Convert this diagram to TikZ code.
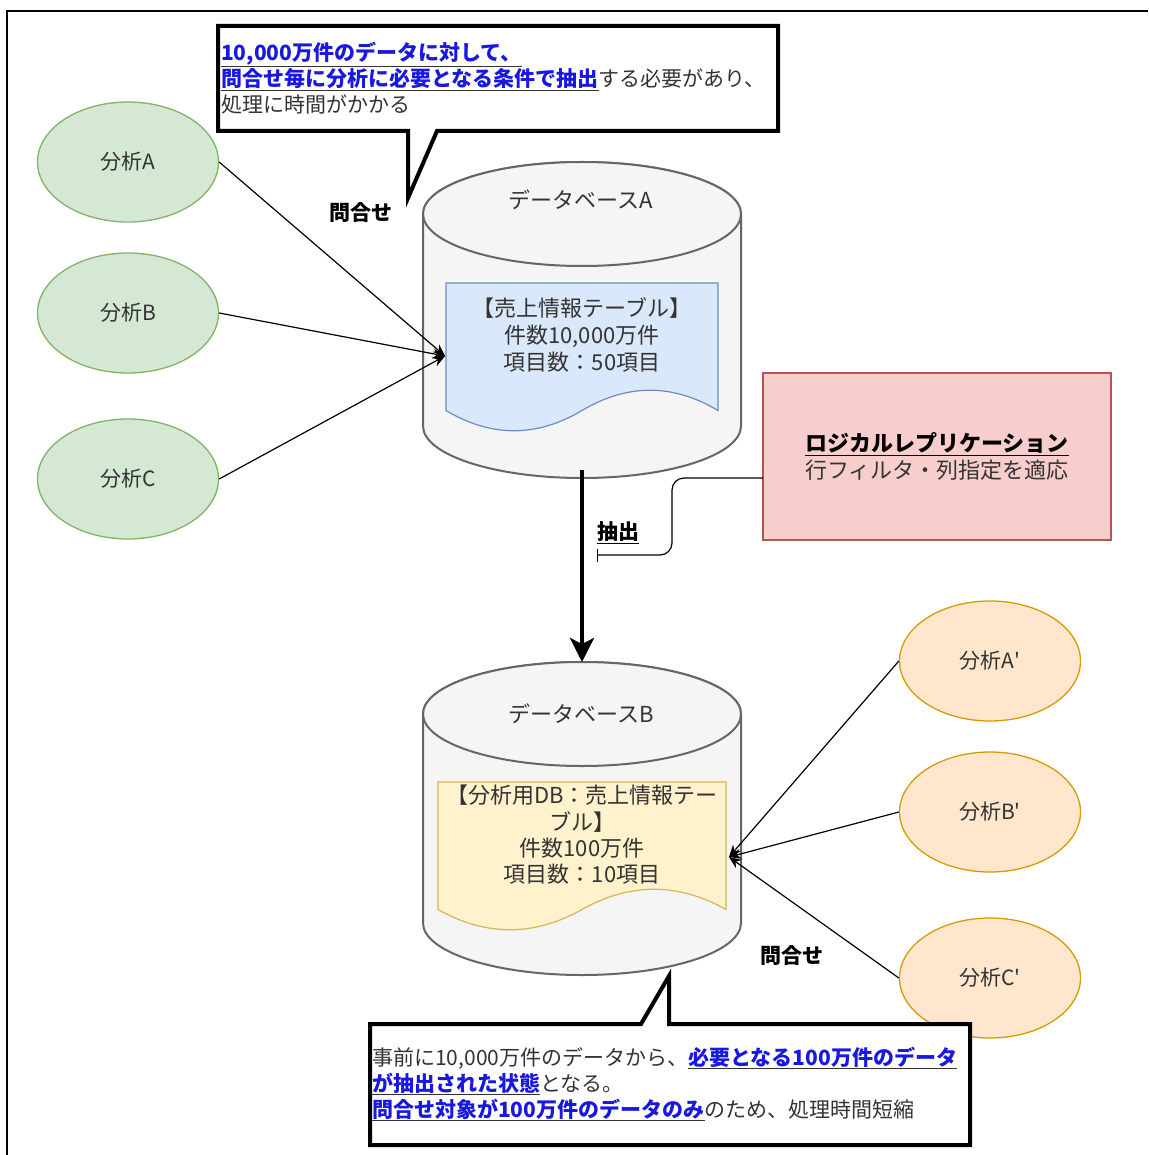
\documentclass[tikz,border=0pt]{standalone}
\usepackage{fontspec}
\setmainfont{Noto Sans CJK JP}
\usetikzlibrary{arrows.meta,shapes.geometric}
\definecolor{txt}{HTML}{333333}
\definecolor{lnk}{RGB}{24,24,224}
\definecolor{gfill}{HTML}{D5E8D4}
\definecolor{gline}{HTML}{82B366}
\definecolor{ofill}{HTML}{FFE6CC}
\definecolor{oline}{HTML}{D79B00}
\definecolor{cylfill}{HTML}{F5F5F5}
\definecolor{cylline}{HTML}{666666}
\definecolor{bfill}{HTML}{DAE8FC}
\definecolor{bline}{HTML}{6C8EBF}
\definecolor{yfill}{HTML}{FFF2CC}
\definecolor{yline}{HTML}{D6B656}
\definecolor{rfill}{HTML}{F8CECC}
\definecolor{rline}{HTML}{B85450}
\newcommand{\lk}[1]{\underline{\textcolor{lnk}{\bfseries #1}}}
\begin{document}
\begin{tikzpicture}[x=1pt,y=-1pt,
  base/.style={font=\fontsize{21}{26}\selectfont, text=txt, inner sep=0pt},
  big/.style={font=\fontsize{22}{27}\selectfont},
  anal/.style={ellipse, line width=1.3pt, minimum width=181pt, minimum height=120pt, base},
  green/.style={anal, fill=gfill, draw=gline},
  orange/.style={anal, fill=ofill, draw=oline},
  cyl/.style={fill=cylfill, draw=cylline, line width=2pt},
  query/.style={draw=black, line width=1.2pt, -{Stealth[length=12pt,width=10pt]}},
  callout/.style={draw=black, fill=white, line width=4pt, line join=miter},
  lbl/.style={inner sep=0pt, text=black, font=\fontsize{21}{26}\selectfont\bfseries},
]
\useasboundingbox (0,0) rectangle (1148,1155);
\fill[white] (0,0) rectangle (1148,1155);
\draw[line width=2pt] (7,1155) -- (7,11) -- (1148,11);

% analysis ellipses
\node[green] (ga) at (128,162) {分析A};
\node[green] (gb) at (128,313) {分析B};
\node[green] (gc) at (128,479) {分析C};
\node[orange] (oa) at (990,661) {分析A\textquotesingle};
\node[orange] (ob) at (990,812) {分析B\textquotesingle};
\node[orange] (oc) at (990,978) {分析C\textquotesingle};

% cylinder A
\path[cyl] (423,214) -- (423,426) arc[start angle=180,end angle=360,x radius=159pt,y radius=52pt] -- (741,214) arc[start angle=0,end angle=180,x radius=159pt,y radius=52pt] -- cycle;
\draw[cyl] (582,214) ellipse [x radius=159pt, y radius=52pt];
\node[base, big] (dbA) at (581,200) {データベースA};
\path[fill=bfill, draw=bline, line width=1.2pt] (446,283) -- (718,283) -- (718,410.5)
  .. controls (672.67,383.5) and (627.33,383.5) .. (582,410.5)
  .. controls (536.67,437.5) and (491.33,437.5) .. (446,410.5) -- cycle;
\node[inner sep=0pt, minimum width=272pt, minimum height=150pt] (docA) at (582,358) {};
\node[base, big, align=center] (docAtxt) at (582,335) {【売上情報テーブル】\\件数10,000万件\\項目数：50項目};

% cylinder B
\path[cyl] (423,714) -- (423,923) arc[start angle=180,end angle=360,x radius=159pt,y radius=52pt] -- (741,714) arc[start angle=0,end angle=180,x radius=159pt,y radius=52pt] -- cycle;
\draw[cyl] (582,714) ellipse [x radius=159pt, y radius=52pt];
\node[base, big] (dbB) at (581,714) {データベースB};
\path[fill=yfill, draw=yline, line width=1.2pt] (438,782) -- (726,782) -- (726,909.5)
  .. controls (678,882.5) and (630,882.5) .. (582,909.5)
  .. controls (534,936.5) and (486,936.5) .. (438,909.5) -- cycle;
\node[inner sep=0pt, minimum width=288pt, minimum height=150pt] (docB) at (582,857) {};
\node[base, big, font=\fontsize{22}{26.3}\selectfont, align=center] (docBtxt) at (582,835) {【分析用DB：売上情報テー\\ブル】\\件数100万件\\項目数：10項目};

% query arrows
\coordinate (inA) at (445,356);
\coordinate (inB) at (729,857);
\draw[query] (ga.east) -- (inA);
\draw[query] (gb.east) -- (inA);
\draw[query] (gc.east) -- (inA);
\draw[query] (oa.west) -- (inB);
\draw[query] (ob.west) -- (inB);
\draw[query] (oc.west) -- (inB);
\node[lbl] (q1) at (361,213) {問合せ};
\node[lbl] (q2) at (792,956) {問合せ};

% extraction arrow
\coordinate (aout) at (582,470);
\coordinate (bin) at (582,662);
\draw[line width=4pt, -{Stealth[length=24pt,width=24pt,inset=6pt]}] (aout) -- (bin);
\node[lbl] (extlbl) at (618,533) {\underline{抽出}};

% logical replication box
\node[base, big, draw=rline, fill=rfill, line width=1.2pt, minimum width=348pt, minimum height=167pt, align=center] (rep) at (937,456.5) {\textcolor{black}{\bfseries\underline{ロジカルレプリケーション}}\\行フィルタ・列指定を適応};
\coordinate (repL) at (763,478);
\coordinate (tick) at (597,555);
\draw[line width=1.2pt, rounded corners=12pt, -{Bar[width=13pt]}] (repL) -- (672,478) -- (672,555) -- (tick);

% callouts
\path[callout] (218,26) -- (778,26) -- (778,131) -- (437,131) -- (408,198) -- (408,131) -- (218,131) -- cycle;
\node[base, align=left, anchor=west] (c1) at (221,78) {\lk{10,000万件のデータに対して、}\\\lk{問合せ毎に分析に必要となる条件で抽出}する必要があり、\\処理に時間がかかる};
\path[callout] (370,1024) -- (641,1024) -- (669,976) -- (669,1024) -- (970,1024) -- (970,1145) -- (370,1145) -- cycle;
\node[base, align=left, anchor=west] (c2) at (372,1084) {事前に10,000万件のデータから、\lk{必要となる100万件のデータ}\\\lk{が抽出された状態}となる。\\\lk{問合せ対象が100万件のデータのみ}のため、処理時間短縮};
\end{tikzpicture}
\end{document}
